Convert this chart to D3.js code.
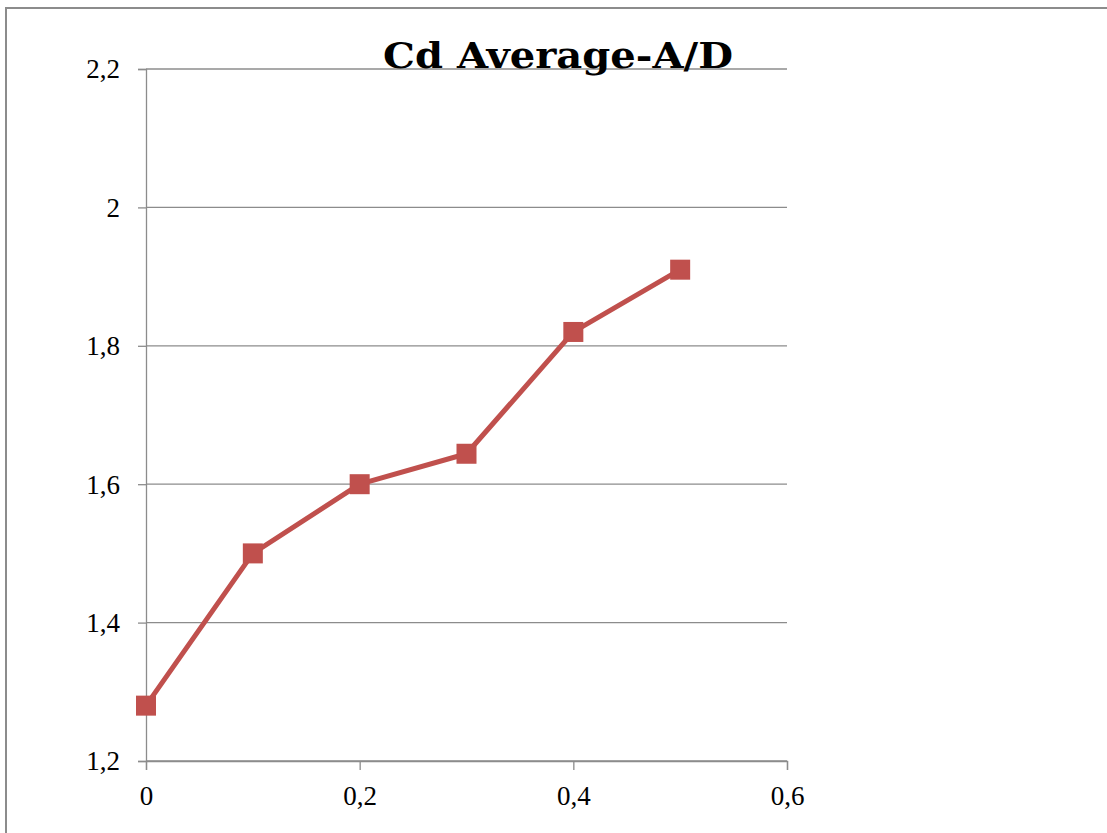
<!DOCTYPE html>
<html>
<head>
<meta charset="utf-8">
<script src="https://cdn.jsdelivr.net/npm/d3@7/dist/d3.min.js"></script>
<style>
  html, body { margin: 0; padding: 0; background: #fff; }
  svg { display: block; }
  text { font-family: "Liberation Serif", "DejaVu Serif", serif; }
</style>
</head>
<body>
<script>
// Drag coefficient averaged against A/D ratio
const xValues = [0, 0.1, 0.2, 0.3, 0.4, 0.5];
const cdValues = [1.28, 1.50, 1.60, 1.644, 1.82, 1.91];
const xTicks = [0, 0.2, 0.4, 0.6];
const yTicks = [1.2, 1.4, 1.6, 1.8, 2.0, 2.2];
const title = "Cd Average-A/D";

const W = 1107, H = 833;
const fmt = v => d3.format("~g")(v).replace(".", ",");

const svg = d3.select("body").append("svg").attr("width", W).attr("height", H);

// chart frame (left and top edges visible)
svg.append("path")
  .attr("d", `M6,${H} V8 H${W}`)
  .attr("fill", "none").attr("stroke", "#8c8c8c").attr("stroke-width", 2);

const x = d3.scaleLinear().domain([0, 0.6]).range([146, 787]);
const y = d3.scaleLinear().domain([1.2, 2.2]).range([761, 69]);

// horizontal gridlines
svg.append("g").selectAll("line").data(yTicks).join("line")
  .attr("x1", x(0)).attr("x2", x(0.6))
  .attr("y1", d => y(d)).attr("y2", d => y(d))
  .attr("stroke", "#8c8c8c").attr("stroke-width", 1.3);

// y axis
const yAxis = svg.append("g").attr("transform", `translate(${x(0)},0)`)
  .call(d3.axisLeft(y).tickValues(yTicks).tickFormat(fmt).tickSize(8).tickPadding(18));
// x axis
const xAxis = svg.append("g").attr("transform", `translate(0,${y(1.2)})`)
  .call(d3.axisBottom(x).tickValues(xTicks).tickFormat(fmt).tickSize(9).tickPadding(16));

[yAxis, xAxis].forEach(g => {
  g.attr("font-size", null).attr("font-family", null);
  g.select(".domain").attr("stroke", "#8c8c8c").attr("stroke-width", 1.3);
  g.selectAll(".tick line").attr("stroke", "#8c8c8c").attr("stroke-width", 1.3);
  g.selectAll("text").attr("fill", "#000")
    .style("font-size", "27px")
    .style("font-family", "'Liberation Serif', serif");
});
yAxis.selectAll("text").attr("dy", "0.33em");

// series line
const line = d3.line().x((d, i) => x(xValues[i])).y(d => y(d));
svg.append("path").datum(cdValues)
  .attr("d", line)
  .attr("fill", "none").attr("stroke", "#c0504d").attr("stroke-width", 5)
  .attr("stroke-linejoin", "round");

// square markers
const s = 20;
svg.append("g").selectAll("rect").data(cdValues).join("rect")
  .attr("x", (d, i) => x(xValues[i]) - s / 2)
  .attr("y", d => y(d) - s / 2)
  .attr("width", s).attr("height", s)
  .attr("fill", "#c0504d");

// title
svg.append("text")
  .attr("x", 558).attr("y", 68)
  .attr("text-anchor", "middle")
  .attr("textLength", 350).attr("lengthAdjust", "spacingAndGlyphs")
  .style("font-family", "'DejaVu Serif', serif")
  .style("font-size", "35px").style("font-weight", "bold")
  .attr("fill", "#000")
  .text(title);
</script>
</body>
</html>
